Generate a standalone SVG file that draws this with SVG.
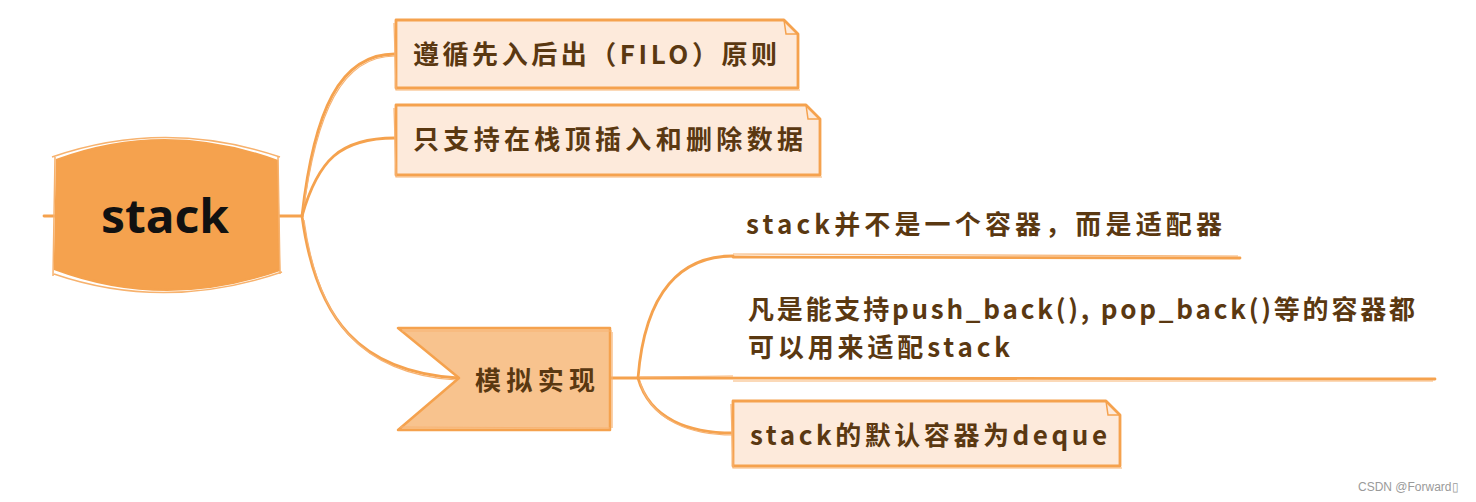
<svg xmlns="http://www.w3.org/2000/svg" width="1476" height="502" viewBox="0 0 1476 502">
<defs>
<style>
.line{fill:none;stroke:#F5A24E;stroke-width:2.8;stroke-linecap:round}
.thin{fill:none;stroke:#F7B373;stroke-width:1.2}
.box{fill:#FDEADB;stroke:#F5A24E;stroke-width:2.8;stroke-linejoin:round}
.t{font-family:"Noto Sans CJK SC","Noto Sans",sans-serif;font-weight:700;fill:#5A3811;font-size:26px}
</style>
</defs>
<rect width="1476" height="502" fill="#ffffff"/>
<g id="connectors">
<line class="line" x1="44" y1="216" x2="58" y2="216"/>
<line class="line" x1="276" y1="216" x2="302" y2="216"/>
<path class="line" d="M302,216 C314,110 340,54 395,54"/>
<path class="thin" d="M303,214 C316,112 342,56 395,56"/>
<path class="line" d="M302,216 C318,160 340,138 395,138"/>
<path class="line" d="M302,216 C316,320 360,372 458,378"/>
<path class="thin" d="M304,220 C318,322 362,374 456,380"/>
<line class="line" x1="610" y1="378" x2="638" y2="378"/>
<path class="line" d="M638,378 C645,290 682,256 733,256"/>
<path class="line" d="M638,378 L1435,379"/>
<path class="thin" d="M640,377 L733,376"/>
<path class="line" d="M638,378 C650,420 690,433 733,433"/>
<path class="thin" d="M640,382 C652,422 692,435 733,435"/>
<path class="line" d="M733,257 L1240,258"/>
<path class="thin" d="M733,254 L1238,256"/>
<path class="thin" d="M733,381 L1433,381"/>
</g>
<g id="root">
<path d="M57,160 Q165,120 277,161 L279,270 Q165,310 55,269 Z" fill="#F5A24E" stroke="#F5A24E" stroke-width="2.5"/>
<path d="M52,157 Q165,118 280,157 M54,274 Q165,312 282,272 M55,157 L53,276 M278,157 L280,274" fill="none" stroke="#F7B26E" stroke-width="1.5"/>
<text x="165" y="233" text-anchor="middle" font-family="'Noto Sans','DejaVu Sans',sans-serif" font-weight="700" font-size="46" fill="#111111" textLength="128" lengthAdjust="spacingAndGlyphs">stack</text>
</g>
<g id="node-filo">
<path class="box" d="M396,20 L784,20 L798,34 L798,88 L396,88 Z"/>
<path d="M784,20 L786,34 L798,34" fill="none" stroke="#F5A24E" stroke-width="1.5"/>
<path class="thin" d="M394,23 L396,90 L800,90"/>
<text class="t" x="413" y="64" textLength="364" lengthAdjust="spacing">遵循先入后出（FILO）原则</text>
</g>
<g id="node-top">
<path class="box" d="M396,105 L806,105 L820,119 L820,175 L396,175 Z"/>
<path d="M806,105 L808,119 L820,119" fill="none" stroke="#F5A24E" stroke-width="1.5"/>
<path class="thin" d="M394,108 L396,177 L822,177"/>
<text class="t" x="413" y="149" textLength="390" lengthAdjust="spacing">只支持在栈顶插入和删除数据</text>
</g>
<g id="node-impl">
<path d="M398,328 L610,328 L610,430 L398,430 L459,378 Z" fill="#F8C38E" stroke="#F5A24E" stroke-width="2.5" stroke-linejoin="round"/>
<path class="thin" d="M402,331 L612,331 M612,332 L612,428 M400,427 L610,428"/>
<text class="t" x="475" y="390" font-size="28" textLength="120" lengthAdjust="spacing">模拟实现</text>
</g>
<g id="node-adapter">
<text class="t" x="746" y="234" textLength="476" lengthAdjust="spacing">stack并不是一个容器，而是适配器</text>
</g>
<g id="node-push">
<text class="t" x="748" y="319" textLength="667" lengthAdjust="spacing">凡是能支持push_back(), pop_back()等的容器都</text>
<text class="t" x="748" y="357" textLength="262" lengthAdjust="spacing">可以用来适配stack</text>
</g>
<g id="node-deque">
<path class="box" d="M733,401 L1106,401 L1120,415 L1120,466 L733,466 Z"/>
<path d="M1106,401 L1108,415 L1120,415" fill="none" stroke="#F5A24E" stroke-width="1.5"/>
<path class="thin" d="M731,404 L733,468 L1122,468"/>
<text class="t" x="750" y="445" textLength="357" lengthAdjust="spacing">stack的默认容器为deque</text>
</g>
<text x="1358" y="491" font-family="'Liberation Sans',Arial,sans-serif" font-size="12" fill="#9a9a9a">CSDN @Forward▯</text>
</svg>
